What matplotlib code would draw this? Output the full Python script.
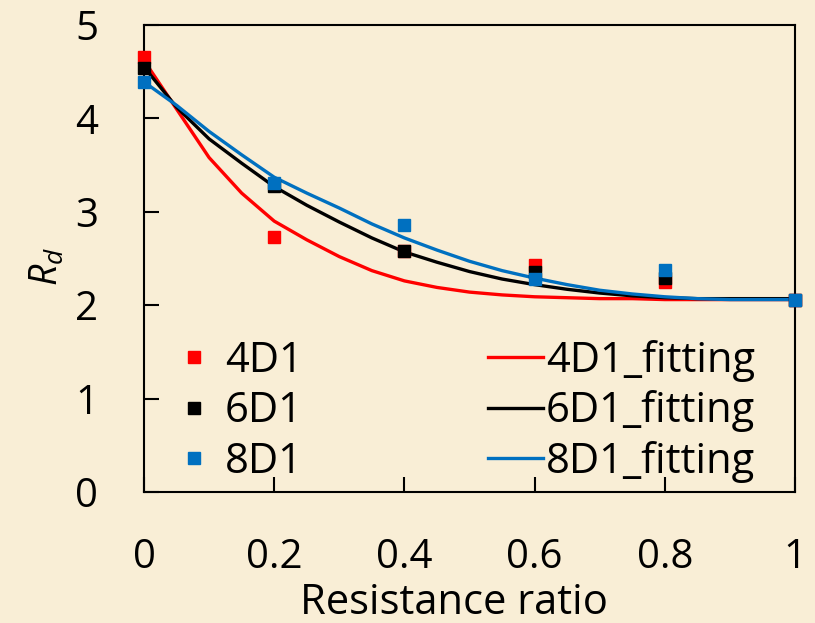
import matplotlib
matplotlib.use("Agg")
import matplotlib.pyplot as plt

plt.rcParams['font.family'] = ['Open Sans', 'DejaVu Sans']
plt.rcParams['mathtext.fontset'] = 'custom'
plt.rcParams['mathtext.it'] = 'Open Sans:italic'
plt.rcParams['mathtext.rm'] = 'Open Sans'

# measured points
ratio = [0, 0.2, 0.4, 0.6, 0.8, 1.0]
rd_4d1 = [4.66, 2.73, 2.58, 2.43, 2.25, 2.06]
rd_6d1 = [4.54, 3.28, 2.58, 2.36, 2.29, 2.06]
rd_8d1 = [4.39, 3.31, 2.86, 2.28, 2.38, 2.06]

# fitted curves
fit_x = [0, 0.05, 0.1, 0.15, 0.2, 0.25, 0.3, 0.35, 0.4, 0.45, 0.5,
         0.55, 0.6, 0.65, 0.7, 0.75, 0.8, 0.85, 0.9, 0.95, 1.0]
fit_4d1 = [4.62, 4.10, 3.58, 3.20, 2.90, 2.70, 2.52, 2.37, 2.26, 2.19, 2.14,
           2.11, 2.09, 2.08, 2.07, 2.07, 2.06, 2.06, 2.06, 2.06, 2.06]
fit_6d1 = [4.55, 4.12, 3.78, 3.52, 3.27, 3.07, 2.89, 2.72, 2.57, 2.46, 2.36,
           2.28, 2.22, 2.17, 2.13, 2.10, 2.08, 2.07, 2.07, 2.07, 2.07]
fit_8d1 = [4.39, 4.14, 3.86, 3.61, 3.37, 3.20, 3.04, 2.87, 2.72, 2.59, 2.47,
           2.37, 2.29, 2.22, 2.16, 2.12, 2.09, 2.07, 2.06, 2.06, 2.06]

red = '#FF0000'
black = '#000000'
blue = '#0070C0'
bg = '#F9EED6'
fs = 29

fig = plt.figure(figsize=(8.15, 6.23), dpi=100, facecolor=bg)
ax = fig.add_axes([0.1767, 0.2103, 0.7988, 0.7496])
ax.set_facecolor('none')

l4, = ax.plot(fit_x, fit_4d1, color=red, lw=2.4, label='4D1_fitting', zorder=2)
l6, = ax.plot(fit_x, fit_6d1, color=black, lw=2.4, label='6D1_fitting', zorder=2)
l8, = ax.plot(fit_x, fit_8d1, color=blue, lw=2.4, label='8D1_fitting', zorder=2)

s4, = ax.plot(ratio, rd_4d1, 's', color=red, ms=8.6, label='4D1', zorder=3, clip_on=False)
s6, = ax.plot(ratio, rd_6d1, 's', color=black, ms=8.6, label='6D1', zorder=3, clip_on=False)
s8, = ax.plot(ratio, rd_8d1, 's', color=blue, ms=8.6, label='8D1', zorder=3, clip_on=False)

ax.set_xlim(0, 1)
ax.set_ylim(0, 5)
ax.set_xticks([0, 0.2, 0.4, 0.6, 0.8, 1])
ax.set_xticklabels(['0', '0.2', '0.4', '0.6', '0.8', '1'])
ax.set_yticks([0, 1, 2, 3, 4, 5])

for sp in ax.spines.values():
    sp.set_linewidth(1.5)
ax.tick_params(direction='in', length=11, width=1.5, labelsize=fs)
ax.tick_params(axis='x', pad=33)
ax.tick_params(axis='y', pad=33)

ax.set_xlabel('Resistance ratio', fontsize=30)
ax.xaxis.set_label_coords(0.476, -0.192)
ax.set_ylabel(r'$R_d$', fontsize=27)
ax.yaxis.set_label_coords(-0.118, 0.482)

ax.legend(handles=[s4, s6, s8, l4, l6, l8], ncol=2, loc='lower left',
          bbox_to_anchor=(0.035, 0.02), frameon=False, fontsize=30,
          handlelength=1.32, handletextpad=0.07, borderpad=0,
          columnspacing=4.45, labelspacing=0.2, borderaxespad=0)

fig.savefig('out.png', dpi=100, facecolor=bg)
